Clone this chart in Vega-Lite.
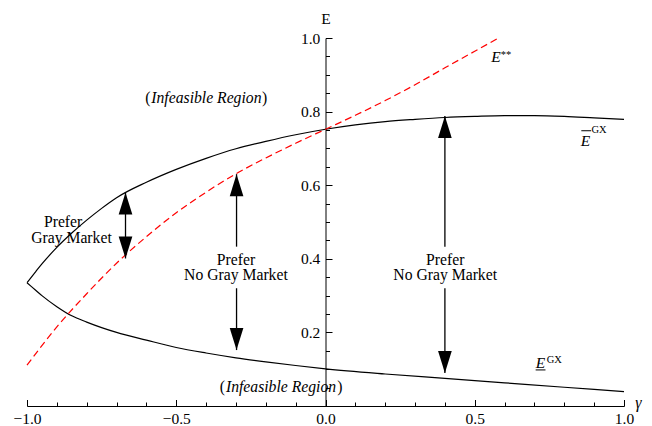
{
  "$schema": "https://vega.github.io/schema/vega-lite/v6.json",
  "width": 597,
  "height": 368,
  "autosize": {"type": "none"},
  "padding": {"left": 27, "top": 38, "right": 28, "bottom": 20},
  "background": "white",
  "config": {"view": {"stroke": null}, "font": "Liberation Serif"},
  "datasets": {
    "curves": [
      {"series": "upper", "gamma": -1, "E": 0.335},
      {"series": "upper", "gamma": -0.97, "E": 0.366},
      {"series": "upper", "gamma": -0.95, "E": 0.386},
      {"series": "upper", "gamma": -0.9, "E": 0.431},
      {"series": "upper", "gamma": -0.85, "E": 0.47},
      {"series": "upper", "gamma": -0.8, "E": 0.505},
      {"series": "upper", "gamma": -0.75, "E": 0.537},
      {"series": "upper", "gamma": -0.7, "E": 0.566},
      {"series": "upper", "gamma": -0.6, "E": 0.608},
      {"series": "upper", "gamma": -0.5, "E": 0.643},
      {"series": "upper", "gamma": -0.4, "E": 0.673},
      {"series": "upper", "gamma": -0.3, "E": 0.699},
      {"series": "upper", "gamma": -0.2, "E": 0.719},
      {"series": "upper", "gamma": -0.1, "E": 0.737},
      {"series": "upper", "gamma": 0, "E": 0.752},
      {"series": "upper", "gamma": 0.1, "E": 0.764},
      {"series": "upper", "gamma": 0.2, "E": 0.773},
      {"series": "upper", "gamma": 0.3, "E": 0.779},
      {"series": "upper", "gamma": 0.4, "E": 0.784},
      {"series": "upper", "gamma": 0.5, "E": 0.787},
      {"series": "upper", "gamma": 0.6, "E": 0.789},
      {"series": "upper", "gamma": 0.7, "E": 0.789},
      {"series": "upper", "gamma": 0.8, "E": 0.787},
      {"series": "upper", "gamma": 0.9, "E": 0.783},
      {"series": "upper", "gamma": 1, "E": 0.779},
      {"series": "lower", "gamma": -1, "E": 0.335},
      {"series": "lower", "gamma": -0.97, "E": 0.314},
      {"series": "lower", "gamma": -0.95, "E": 0.3},
      {"series": "lower", "gamma": -0.9, "E": 0.27},
      {"series": "lower", "gamma": -0.85, "E": 0.245},
      {"series": "lower", "gamma": -0.8, "E": 0.228},
      {"series": "lower", "gamma": -0.75, "E": 0.213},
      {"series": "lower", "gamma": -0.7, "E": 0.2},
      {"series": "lower", "gamma": -0.6, "E": 0.179},
      {"series": "lower", "gamma": -0.5, "E": 0.159},
      {"series": "lower", "gamma": -0.4, "E": 0.144},
      {"series": "lower", "gamma": -0.3, "E": 0.131},
      {"series": "lower", "gamma": -0.2, "E": 0.12},
      {"series": "lower", "gamma": -0.1, "E": 0.11},
      {"series": "lower", "gamma": 0, "E": 0.101},
      {"series": "lower", "gamma": 0.2, "E": 0.087},
      {"series": "lower", "gamma": 0.4, "E": 0.075},
      {"series": "lower", "gamma": 0.6, "E": 0.063},
      {"series": "lower", "gamma": 0.8, "E": 0.051},
      {"series": "lower", "gamma": 1, "E": 0.039},
      {"series": "E**", "gamma": -1, "E": 0.111},
      {"series": "E**", "gamma": -0.9, "E": 0.215},
      {"series": "E**", "gamma": -0.8, "E": 0.305},
      {"series": "E**", "gamma": -0.7, "E": 0.388},
      {"series": "E**", "gamma": -0.6, "E": 0.46},
      {"series": "E**", "gamma": -0.5, "E": 0.525},
      {"series": "E**", "gamma": -0.4, "E": 0.581},
      {"series": "E**", "gamma": -0.3, "E": 0.631},
      {"series": "E**", "gamma": -0.2, "E": 0.674},
      {"series": "E**", "gamma": -0.1, "E": 0.714},
      {"series": "E**", "gamma": 0, "E": 0.752},
      {"series": "E**", "gamma": 0.1, "E": 0.79},
      {"series": "E**", "gamma": 0.2, "E": 0.83},
      {"series": "E**", "gamma": 0.3, "E": 0.873},
      {"series": "E**", "gamma": 0.4, "E": 0.919},
      {"series": "E**", "gamma": 0.5, "E": 0.964},
      {"series": "E**", "gamma": 0.58, "E": 1.0}
    ],
    "shafts": [
      {"gamma": -0.67, "E": 0.401, "E2": 0.58},
      {"gamma": -0.298, "E": 0.433, "E2": 0.63},
      {"gamma": -0.298, "E": 0.32, "E2": 0.152},
      {"gamma": 0.4, "E": 0.433, "E2": 0.788},
      {"gamma": 0.4, "E": 0.32, "E2": 0.09}
    ],
    "heads": [
      {"gamma": -0.67, "E": 0.58, "dir": "up"},
      {"gamma": -0.67, "E": 0.401, "dir": "down"},
      {"gamma": -0.298, "E": 0.63, "dir": "up"},
      {"gamma": -0.298, "E": 0.152, "dir": "down"},
      {"gamma": 0.4, "E": 0.788, "dir": "up"},
      {"gamma": 0.4, "E": 0.09, "dir": "down"}
    ],
    "labels": [
      {"gamma": -0.879, "E": 0.487, "text": "Prefer"},
      {"gamma": -0.851, "E": 0.442, "text": "Gray Market"},
      {"gamma": -0.3, "E": 0.384, "text": "Prefer"},
      {"gamma": -0.3, "E": 0.342, "text": "No Gray Market"},
      {"gamma": 0.401, "E": 0.384, "text": "Prefer"},
      {"gamma": 0.401, "E": 0.342, "text": "No Gray Market"}
    ],
    "regions": [
      {"gamma": -0.399, "E": 0.823, "text": "Infeasible Region"},
      {"gamma": -0.149, "E": 0.039, "text": "Infeasible Region"}
    ],
    "lparens": [
      {"gamma": -0.586, "E": 0.823, "text": "("},
      {"gamma": -0.337, "E": 0.039, "text": "("}
    ],
    "rparens": [
      {"gamma": -0.213, "E": 0.823, "text": ")"},
      {"gamma": 0.039, "E": 0.039, "text": ")"}
    ],
    "symbols": [
      {"gamma": 0.555, "E": 0.936, "text": "E"},
      {"gamma": 0.855, "E": 0.7065, "text": "E"},
      {"gamma": 0.704, "E": 0.104, "text": "E"}
    ],
    "sups": [
      {"gamma": 0.587, "E": 0.947, "text": "**"},
      {"gamma": 0.891, "E": 0.741, "text": "GX"},
      {"gamma": 0.741, "E": 0.1177, "text": "GX"}
    ],
    "bars": [
      {"gamma": 0.857, "gamma2": 0.89, "E": 0.748},
      {"gamma": 0.704, "gamma2": 0.737, "E": 0.098}
    ]
  },
  "encoding": {
    "x": {
      "field": "gamma",
      "type": "quantitative",
      "scale": {"domain": [-1, 1], "nice": false, "zero": false},
      "axis": {
        "title": "γ",
        "orient": "bottom",
        "values": [-1, -0.9, -0.8, -0.7, -0.6, -0.5, -0.4, -0.3, -0.2, -0.1, 0, 0.1, 0.2, 0.3, 0.4, 0.5, 0.6, 0.7, 0.8, 0.9, 1],
        "format": ".1f",
        "labelExpr": "abs(datum.value*2-round(datum.value*2))<0.001 ? datum.label : ''",
        "tickSize": {"condition": {"test": "abs(datum.value*2-round(datum.value*2))<0.001", "value": -6.5}, "value": -4},
        "labelPadding": 11.5,
        "labelBaseline": "top",
        "grid": false,
        "domainColor": "black",
        "tickColor": "black",
        "labelColor": "black",
        "labelFont": "Liberation Serif",
        "labelFontSize": 15.5,
        "labelFlush": false,
        "labelOverlap": false,
        "titleX": 611,
        "titleY": 1,
        "titleAlign": "center",
        "titleBaseline": "alphabetic",
        "titleAngle": 0,
        "titleFont": "Liberation Serif",
        "titleFontStyle": "italic",
        "titleFontWeight": "normal",
        "titleFontSize": 16,
        "titleColor": "black"
      }
    },
    "y": {
      "field": "E",
      "type": "quantitative",
      "scale": {"domain": [0, 1], "nice": false, "zero": false},
      "axis": {
        "title": "E",
        "orient": "left",
        "offset": -298.5,
        "values": [0.05, 0.1, 0.15, 0.2, 0.25, 0.3, 0.35, 0.4, 0.45, 0.5, 0.55, 0.6, 0.65, 0.7, 0.75, 0.8, 0.85, 0.9, 0.95, 1.0],
        "format": ".1f",
        "labelExpr": "abs(datum.value*5-round(datum.value*5))<0.001 ? datum.label : ''",
        "tickSize": {"condition": {"test": "abs(datum.value*5-round(datum.value*5))<0.001", "value": -6.5}, "value": -4},
        "labelPadding": 12.2,
        "labelBaseline": "middle",
        "grid": false,
        "domainColor": "black",
        "tickColor": "black",
        "labelColor": "black",
        "labelFont": "Liberation Serif",
        "labelFontSize": 15.5,
        "labelFlush": false,
        "labelOverlap": false,
        "titleX": 0,
        "titleY": -15,
        "titleAlign": "center",
        "titleBaseline": "alphabetic",
        "titleAngle": 0,
        "titleFont": "Liberation Serif",
        "titleFontWeight": "normal",
        "titleFontSize": 15.5,
        "titleColor": "black"
      }
    }
  },
  "layer": [
    {
      "data": {"name": "curves"},
      "transform": [{"filter": "datum.series != 'E**'"}],
      "mark": {"type": "line", "color": "black", "strokeWidth": 1.2, "interpolate": "monotone", "clip": false},
      "encoding": {"detail": {"field": "series"}}
    },
    {
      "data": {"name": "curves"},
      "transform": [{"filter": "datum.series == 'E**'"}],
      "mark": {"type": "line", "color": "#ff0000", "strokeWidth": 1.2, "strokeDash": [7, 4], "interpolate": "monotone", "clip": false},
      "encoding": {}
    },
    {
      "data": {"name": "shafts"},
      "mark": {"type": "rule", "color": "black", "strokeWidth": 1.3},
      "encoding": {"y2": {"field": "E2"}}
    },
    {
      "data": {"name": "heads"},
      "mark": {"type": "point", "filled": true, "color": "black", "opacity": 1, "size": 484, "strokeWidth": 0},
      "encoding": {
        "shape": {"field": "dir", "type": "nominal", "scale": {"domain": ["up", "down"], "range": ["M0,0L0.62,2L-0.62,2Z", "M0,0L0.62,-2L-0.62,-2Z"]}, "legend": null}
      }
    },
    {
      "data": {"name": "labels"},
      "mark": {"type": "text", "font": "Liberation Serif", "fontSize": 15.7, "align": "center", "baseline": "alphabetic", "color": "black"},
      "encoding": {"text": {"field": "text"}}
    },
    {
      "data": {"name": "regions"},
      "mark": {"type": "text", "font": "Liberation Serif", "fontSize": 15.7, "fontStyle": "italic", "align": "center", "baseline": "alphabetic", "color": "black"},
      "encoding": {"text": {"field": "text"}}
    },
    {
      "data": {"name": "lparens"},
      "mark": {"type": "text", "font": "Liberation Serif", "fontSize": 15.7, "align": "right", "baseline": "alphabetic", "color": "black"},
      "encoding": {"text": {"field": "text"}}
    },
    {
      "data": {"name": "rparens"},
      "mark": {"type": "text", "font": "Liberation Serif", "fontSize": 15.7, "align": "left", "baseline": "alphabetic", "color": "black"},
      "encoding": {"text": {"field": "text"}}
    },
    {
      "data": {"name": "symbols"},
      "mark": {"type": "text", "font": "Liberation Serif", "fontSize": 15.5, "fontStyle": "italic", "align": "left", "baseline": "alphabetic", "color": "black"},
      "encoding": {"text": {"field": "text"}}
    },
    {
      "data": {"name": "sups"},
      "mark": {"type": "text", "font": "Liberation Serif", "fontSize": 10.5, "align": "left", "baseline": "alphabetic", "color": "black"},
      "encoding": {"text": {"field": "text"}}
    },
    {
      "data": {"name": "bars"},
      "mark": {"type": "rule", "color": "black", "strokeWidth": 1},
      "encoding": {"x2": {"field": "gamma2"}}
    }
  ]
}
